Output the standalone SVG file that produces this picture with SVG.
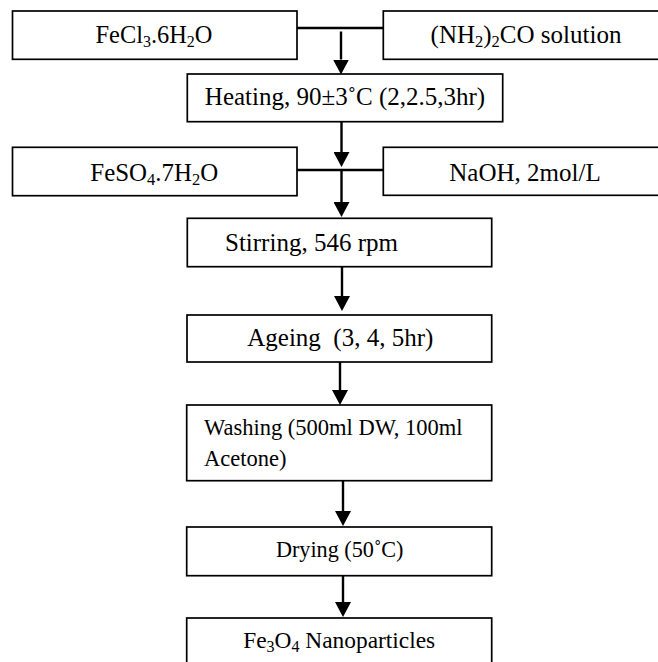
<svg xmlns="http://www.w3.org/2000/svg" width="658" height="662" viewBox="0 0 658 662">
<style>
.box{fill:#fff;stroke:#000;stroke-width:1.7}
.t{font-family:"Liberation Serif","Times New Roman",serif;fill:#000}
.c{stroke:#000;stroke-width:2.4;fill:none}
.h{stroke:#000;stroke-width:2.6;fill:none}
</style>
<defs>
<marker id="ah" markerUnits="userSpaceOnUse" viewBox="0 0 15 16" refX="0" refY="8" markerWidth="15" markerHeight="16" orient="auto">
<path d="M0,0 L15,8 L0,16 Z" fill="#000"/>
</marker>
</defs>
<rect width="658" height="662" fill="#fff"/>
<g id="connectors">
<path class="h" d="M297 28 H383"/>
<path class="h" d="M297 170 H383"/>
<path class="c" d="M341 31.5 V59.5" marker-end="url(#ah)"/>
<path class="c" d="M341.5 122 V152" marker-end="url(#ah)"/>
<path class="c" d="M341.5 171 V202" marker-end="url(#ah)"/>
<path class="c" d="M342 267 V296" marker-end="url(#ah)"/>
<path class="c" d="M340 362 V390" marker-end="url(#ah)"/>
<path class="c" d="M343 481 V511" marker-end="url(#ah)"/>
<path class="c" d="M343 576 V602" marker-end="url(#ah)"/>
</g>
<g id="fecl3">
<rect class="box" x="12.5" y="11" width="284.5" height="48.3"/>
<text class="t" x="154" y="43" font-size="24.4" text-anchor="middle">FeCl<tspan font-size="16" dy="4">3</tspan><tspan dy="-4">.6H</tspan><tspan font-size="16" dy="4">2</tspan><tspan dy="-4">O</tspan></text>
</g>
<g id="urea">
<rect class="box" x="383.3" y="11" width="300" height="48.3"/>
<text class="t" x="526" y="43" font-size="25" text-anchor="middle">(NH<tspan font-size="16.5" dy="4">2</tspan><tspan dy="-4">)</tspan><tspan font-size="16.5" dy="4">2</tspan><tspan dy="-4">CO solution</tspan></text>
</g>
<g id="heating">
<rect class="box" x="187.3" y="74" width="315.4" height="47.7"/>
<text class="t" x="345" y="105" font-size="25" text-anchor="middle">Heating, 90±3˚C (2,2.5,3hr)</text>
</g>
<g id="feso4">
<rect class="box" x="12.5" y="147.3" width="284.5" height="48.4"/>
<text class="t" x="154.3" y="180.5" font-size="24.9" text-anchor="middle">FeSO<tspan font-size="16.5" dy="4">4</tspan><tspan dy="-4">.7H</tspan><tspan font-size="16.5" dy="4">2</tspan><tspan dy="-4">O</tspan></text>
</g>
<g id="naoh">
<rect class="box" x="383.3" y="147.3" width="300" height="48"/>
<text class="t" x="525" y="180.5" font-size="25" text-anchor="middle">NaOH, 2mol/L</text>
</g>
<g id="stirring">
<rect class="box" x="187.3" y="218.3" width="304.4" height="48.4"/>
<text class="t" x="225" y="250.5" font-size="25">Stirring, 546 rpm</text>
</g>
<g id="ageing">
<rect class="box" x="187" y="315" width="304.7" height="47"/>
<text class="t" x="340.3" y="346" font-size="25" text-anchor="middle" xml:space="preserve">Ageing  (3, 4, 5hr)</text>
</g>
<g id="washing">
<rect class="box" x="186.7" y="405" width="305" height="75.7"/>
<text class="t" x="204" y="435" font-size="22.5">Washing (500ml DW, 100ml</text>
<text class="t" x="204" y="466" font-size="22.5">Acetone)</text>
</g>
<g id="drying">
<rect class="box" x="186.7" y="527" width="305" height="48.7"/>
<text class="t" x="339.7" y="557" font-size="22.2" text-anchor="middle">Drying (50˚C)</text>
</g>
<g id="fe3o4">
<rect class="box" x="186.7" y="618" width="305" height="60"/>
<text class="t" x="339.2" y="648.3" font-size="23.4" text-anchor="middle">Fe<tspan font-size="16" dy="3.5">3</tspan><tspan dy="-3.5">O</tspan><tspan font-size="16" dy="3.5">4</tspan><tspan dy="-3.5"> Nanoparticles</tspan></text>
</g>
</svg>
